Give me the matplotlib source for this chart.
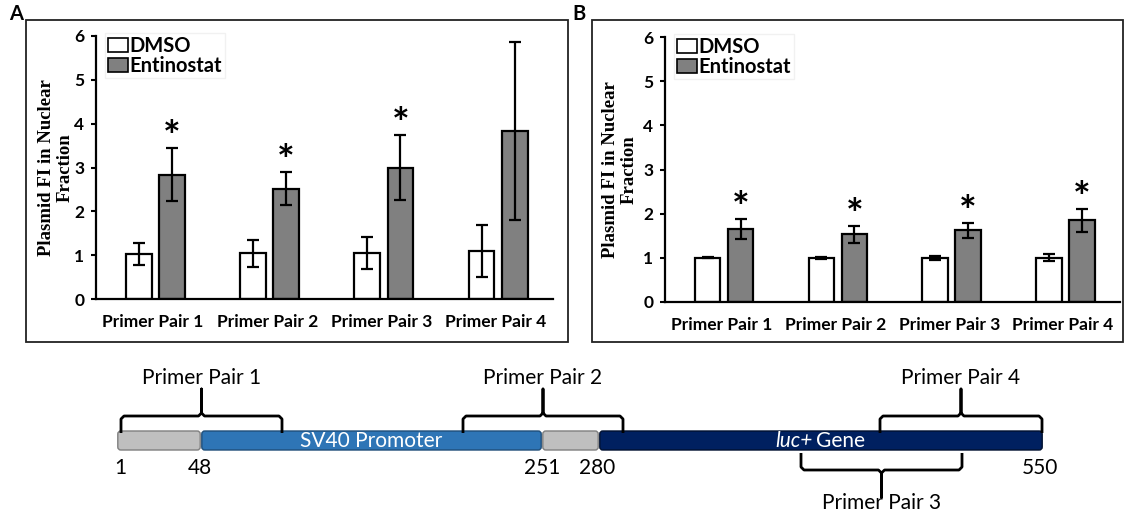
import matplotlib
matplotlib.use("Agg")
import matplotlib.pyplot as plt
import numpy as np
from matplotlib.patches import Rectangle, FancyBboxPatch, Patch

W, H = 1127, 514

# ---- data -------------------------------------------------------------
CATEGORIES = ["Primer Pair 1", "Primer Pair 2", "Primer Pair 3", "Primer Pair 4"]
SERIES = ["DMSO", "Entinostat"]

A_DMSO = [1.02, 1.04, 1.05, 1.09]
A_DMSO_ERR = [0.25, 0.30, 0.36, 0.59]
A_ENT = [2.84, 2.52, 3.00, 3.84]
A_ENT_ERR = [0.61, 0.38, 0.75, 2.03]
A_SIG = [True, True, True, False]

B_DMSO = [1.00, 1.00, 1.00, 1.00]
B_DMSO_ERR = [0.01, 0.03, 0.05, 0.08]
B_ENT = [1.66, 1.53, 1.63, 1.85]
B_ENT_ERR = [0.23, 0.20, 0.17, 0.26]
B_SIG = [True, True, True, True]

YTICKS = [0, 1, 2, 3, 4, 5, 6]
YLABEL = "Plasmid FI in Nuclear\nFraction"

# plasmid map (schematic, not to scale)
SEG_EDGES = [117, 201, 542, 599, 1043]
SEG_COLORS = ["#bfbfbf", "#2e75b6", "#bfbfbf", "#002060"]
SEG_EDGECOLORS = ["#7f7f7f", "#1f4e79", "#7f7f7f", "#00102f"]
POS_LABELS = ["1", "48", "251", "280", "550"]
POS_X = [120, 200, 542, 597, 1040]
PRIMER_SPANS = [(121, 282, "above"), (463, 623, "above"), (801, 962, "below"), (880, 1042, "above")]

SANS = ["Lato", "DejaVu Sans"]
SERIF = ["Liberation Serif", "DejaVu Serif"]
plt.rcParams["font.family"] = SANS


def fig_box(left, top, right, bottom):
    return [left / W, 1 - bottom / H, (right - left) / W, (bottom - top) / H]


fig = plt.figure(figsize=(W / 100, H / 100), dpi=100, facecolor="white")

# overlay axes in pixel units for frames and the plasmid diagram
ov = fig.add_axes([0, 0, 1, 1], zorder=0)
ov.set_xlim(0, W)
ov.set_ylim(H, 0)
ov.axis("off")

for (l, t, r, b), letter, lx in [((26, 20, 568, 342), "A", 16), ((592, 20, 1123, 342), "B", 579)]:
    ov.add_patch(Rectangle((l, t), r - l, b - t, fill=False, edgecolor="#222222", lw=1.3))
    ov.text(lx, 14, letter, ha="center", va="center", fontsize=14.5, fontweight="bold")


def bar_panel(box, dmso, dmso_err, ent, ent_err, sig, ylabel_x):
    ax = fig.add_axes(fig_box(*box), zorder=1)
    ax.set_facecolor("none")
    x = np.arange(len(CATEGORIES))
    w = 0.225
    ekw = dict(ecolor="black", elinewidth=1.6, capsize=4.5, capthick=1.6)
    ax.bar(x - 0.125, dmso, w, yerr=dmso_err, color="white", edgecolor="black",
           lw=1.6, error_kw=ekw, label=SERIES[0], zorder=2)
    ax.bar(x + 0.165, ent, w, yerr=ent_err, color="#808080", edgecolor="black",
           lw=1.6, error_kw=ekw, label=SERIES[1], zorder=2)
    for xi, v, e, s in zip(x, ent, ent_err, sig):
        if s:
            ax.text(xi + 0.165, v + e + 0.2, "*", ha="center", va="center",
                    fontsize=30, fontweight="bold")
    ax.set_xlim(-0.5, len(CATEGORIES) - 0.5)
    ax.set_ylim(0, 6)
    ax.set_yticks(YTICKS)
    ax.set_xticks(x)
    ax.set_xticklabels(CATEGORIES, fontsize=12.5, fontweight="bold")
    ax.tick_params(axis="x", length=0, pad=11)
    ax.tick_params(axis="y", direction="out", length=3.5, width=1.5, pad=5, labelsize=12.5)
    for lab in ax.get_yticklabels():
        lab.set_fontweight("bold")
    for side in ("top", "right"):
        ax.spines[side].set_visible(False)
    for side in ("left", "bottom"):
        ax.spines[side].set_linewidth(1.6)
    handles = [Patch(facecolor="white", edgecolor="black", lw=1.2),
               Patch(facecolor="#808080", edgecolor="black", lw=1.2)]
    ax.legend(handles, SERIES, loc="upper left", bbox_to_anchor=(0.02, 1.01),
              prop={"family": SANS, "weight": "bold", "size": 14.5},
              handlelength=1.0, handleheight=0.7, handletextpad=0.1,
              labelspacing=0.0, borderpad=0.12, borderaxespad=0,
              frameon=True, facecolor="white", edgecolor="#eeeeee", fancybox=False)
    fig.text(ylabel_x / W, 1 - ((box[1] + box[3]) / 2) / H, YLABEL, rotation=90,
             ha="center", va="center", multialignment="center",
             fontsize=13.5, fontweight="bold", family=SERIF, linespacing=1.15)
    return ax


bar_panel((96, 36, 553, 299), A_DMSO, A_DMSO_ERR, A_ENT, A_ENT_ERR, A_SIG, 56)
bar_panel((665, 37, 1120, 302), B_DMSO, B_DMSO_ERR, B_ENT, B_ENT_ERR, B_SIG, 620)

# ---- plasmid diagram ---------------------------------------------------
BAR_TOP, BAR_BOT = 431, 450
DFS = 15
for i in range(len(SEG_COLORS)):
    x0, x1 = SEG_EDGES[i], SEG_EDGES[i + 1]
    ov.add_patch(FancyBboxPatch((x0 + 0.8, BAR_TOP), x1 - x0 - 1.6, BAR_BOT - BAR_TOP,
                                boxstyle="round,pad=0,rounding_size=3",
                                facecolor=SEG_COLORS[i], edgecolor=SEG_EDGECOLORS[i], lw=1))

ov.text((SEG_EDGES[1] + SEG_EDGES[2]) / 2, 441, "SV40 Promoter", ha="center", va="center",
        color="white", fontsize=DFS)
ov.text(813, 441, "luc+", ha="right", va="center", color="white", fontsize=DFS, style="italic")
ov.text(816, 441, "Gene", ha="left", va="center", color="white", fontsize=DFS)
for lab, px in zip(POS_LABELS, POS_X):
    ov.text(px, 468, lab, ha="center", va="center", fontsize=DFS)


def bracket(x0, x1, where, label):
    xm = (x0 + x1) / 2
    if where == "above":
        yend, yh, ypk, ylab, s = BAR_TOP + 2, 416, 389, 378, -1
    else:
        yend, yh, ypk, ylab, s = BAR_BOT + 3, 470, 497, 503, 1
    r = 3
    pts_x = [x0, x0, x0 + r, xm - r, xm, xm, xm, xm + r, x1 - r, x1, x1]
    pts_y = [yend, yh - s * r, yh, yh, yh + s * r, ypk, yh + s * r, yh, yh, yh - s * r, yend]
    ov.plot(pts_x, pts_y, color="black", lw=2, solid_joinstyle="round", solid_capstyle="butt")
    ov.text(xm, ylab, label, ha="center", va="center", fontsize=DFS)


for (x0, x1, where), name in zip(PRIMER_SPANS, CATEGORIES):
    bracket(x0, x1, where, name)

fig.savefig("out.png", dpi=100, facecolor="white")
